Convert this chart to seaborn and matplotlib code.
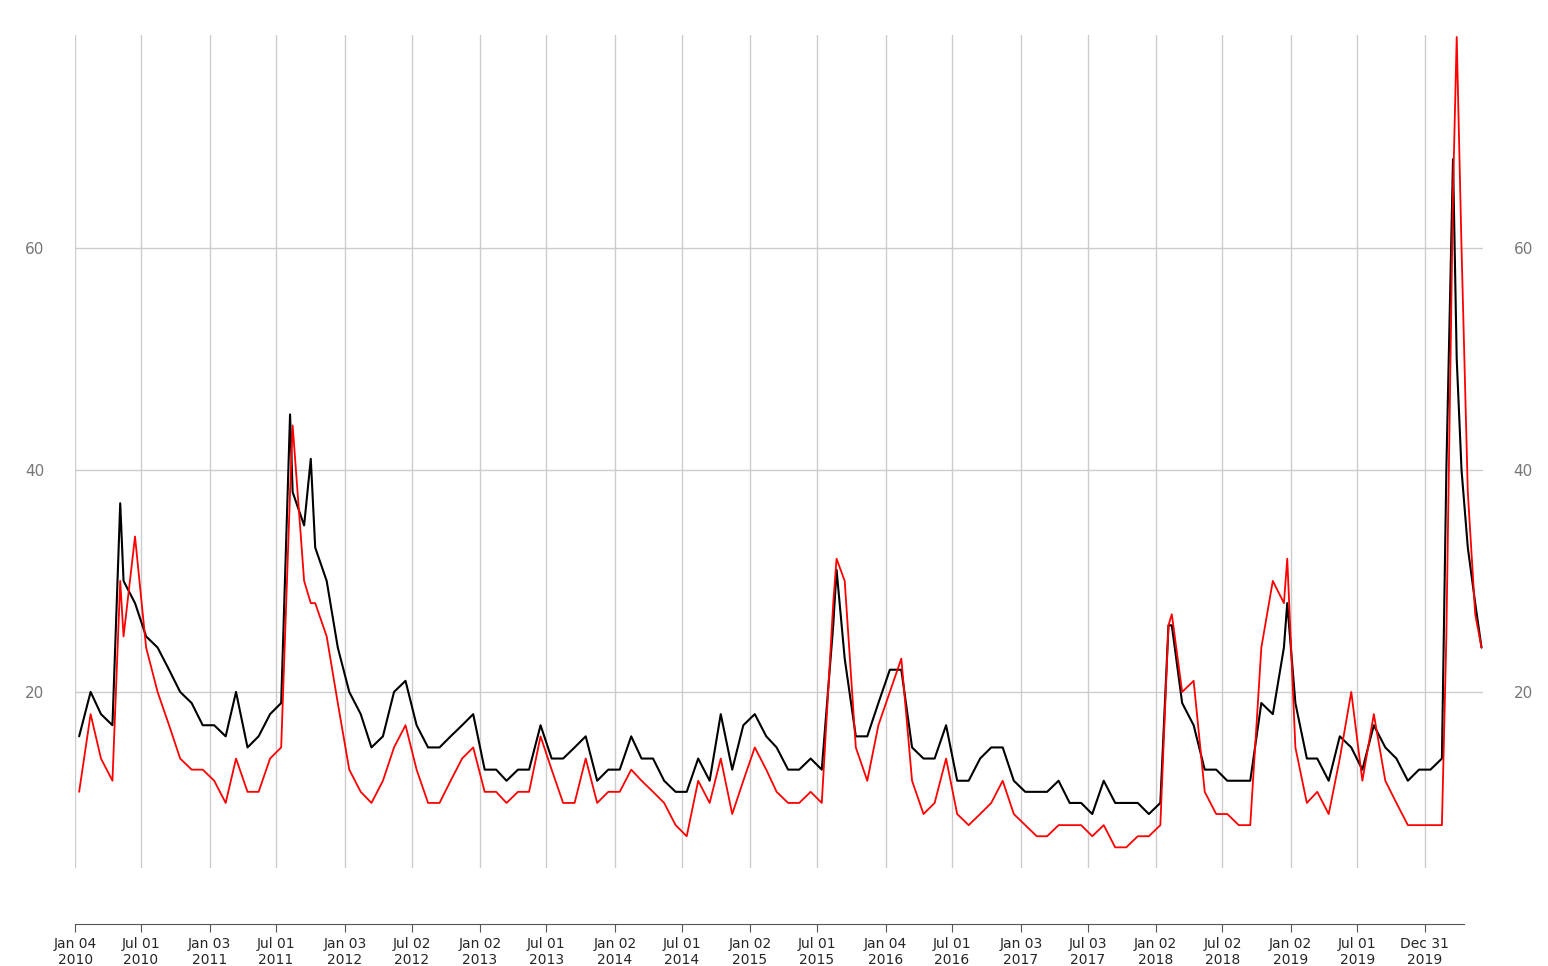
import pandas as pd
import numpy as np
import seaborn as sb
import matplotlib.dates as mdates
from matplotlib import pyplot as plt

# monthly readings, Jan 2010 .. Feb 2020 (mid-month)
months = pd.date_range("2010-01-01", "2020-02-01", freq="MS") + pd.Timedelta(days=14)

vix = [16, 20, 18, 17, 30, 28, 25, 24, 22, 20, 19, 17,
       17, 16, 20, 15, 16, 18, 19, 38, 35, 33, 30, 24,
       20, 18, 15, 16, 20, 21, 17, 15, 15, 16, 17, 18,
       13, 13, 12, 13, 13, 17, 14, 14, 15, 16, 12, 13,
       13, 16, 14, 14, 12, 11, 11, 14, 12, 18, 13, 17,
       18, 16, 15, 13, 13, 14, 13, 26, 23, 16, 16, 19,
       22, 22, 15, 14, 14, 17, 12, 12, 14, 15, 15, 12,
       11, 11, 11, 12, 10, 10, 9, 12, 10, 10, 10, 9,
       10, 26, 19, 17, 13, 13, 12, 12, 12, 19, 18, 24,
       19, 14, 14, 12, 16, 15, 13, 17, 15, 14, 12, 13,
       13, 14]
rv = [11, 18, 14, 12, 25, 34, 24, 20, 17, 14, 13, 13,
      12, 10, 14, 11, 11, 14, 15, 44, 30, 28, 25, 19,
      13, 11, 10, 12, 15, 17, 13, 10, 10, 12, 14, 15,
      11, 11, 10, 11, 11, 16, 13, 10, 10, 14, 10, 11,
      11, 13, 12, 11, 10, 8, 7, 12, 10, 14, 9, 12,
      15, 13, 11, 10, 10, 11, 10, 28, 30, 15, 12, 17,
      20, 23, 12, 9, 10, 14, 9, 8, 9, 10, 12, 9,
      8, 7, 7, 8, 8, 8, 7, 8, 6, 6, 7, 7,
      8, 27, 20, 21, 11, 9, 9, 8, 8, 24, 30, 28,
      15, 10, 11, 9, 14, 20, 12, 18, 12, 10, 8, 8,
      8, 8]

# extra points at spikes and the 2020 crash
spike_dates = ["2010-05-06", "2011-08-08", "2011-10-03", "2015-08-24", "2018-02-06",
               "2018-12-24", "2020-02-27", "2020-03-16", "2020-03-26", "2020-04-08",
               "2020-04-25", "2020-05-15", "2020-06-01"]
spike_vix = [37, 45, 41, 31, 26, 28, 40, 68, 50, 40, 33, 28, 24]
spike_rv = [30, 38, 28, 32, 26, 32, 25, 65, 79, 60, 38, 27, 24]

tick_dates = ["2010-01-04", "2010-07-01", "2011-01-03", "2011-07-01", "2012-01-03", "2012-07-02",
              "2013-01-02", "2013-07-01", "2014-01-02", "2014-07-01", "2015-01-02", "2015-07-01",
              "2016-01-04", "2016-07-01", "2017-01-03", "2017-07-03", "2018-01-02", "2018-07-02",
              "2019-01-02", "2019-07-01", "2019-12-31"]
tick_labels = ["Jan 04\n2010", "Jul 01\n2010", "Jan 03\n2011", "Jul 01\n2011", "Jan 03\n2012",
               "Jul 02\n2012", "Jan 02\n2013", "Jul 01\n2013", "Jan 02\n2014", "Jul 01\n2014",
               "Jan 02\n2015", "Jul 01\n2015", "Jan 04\n2016", "Jul 01\n2016", "Jan 03\n2017",
               "Jul 03\n2017", "Jan 02\n2018", "Jul 02\n2018", "Jan 02\n2019", "Jul 01\n2019",
               "Dec 31\n2019"]

df = pd.DataFrame({"date": list(months) + list(pd.to_datetime(spike_dates)),
                   "vix": vix + spike_vix,
                   "rv": rv + spike_rv}).sort_values("date")

sb.set_style("white")
fig = plt.figure(figsize=(15.48, 9.66), dpi=100)
ax = fig.add_axes([0.0485, 0.101, 0.958 - 0.0485, 0.964 - 0.101])

ticks = pd.to_datetime(tick_dates)
for t in ticks:
    ax.axvline(t, color="#cccccc", lw=1, zorder=0)
for y in [20, 40, 60]:
    ax.axhline(y, color="#cccccc", lw=1, zorder=0)

sb.lineplot(data=df, x="date", y="vix", color="black", lw=1.5, ax=ax)
sb.lineplot(data=df, x="date", y="rv", color="red", lw=1.3, ax=ax)

ax.set_xlim(pd.Timestamp("2010-01-04"), pd.Timestamp("2020-06-05"))
ax.set_ylim(4.1, 79.2)
ax.set_xlabel("")
ax.set_ylabel("")
ax.set_xticks(ticks)
ax.set_xticklabels(tick_labels, color="#555555", fontsize=11)
ax.set_yticks([20, 40, 60])
ax.tick_params(axis="y", length=0, labelcolor="#777777", labelsize=11,
               labelleft=True, labelright=True, pad=22)
ax.tick_params(axis="x", direction="out", length=6, color="#555555", bottom=True)
for s in ["top", "left", "right"]:
    ax.spines[s].set_visible(False)
ax.spines["bottom"].set_position(("outward", 40))
ax.spines["bottom"].set_color("#555555")
ax.spines["bottom"].set_bounds(mdates.date2num(pd.Timestamp("2010-01-04")),
                               mdates.date2num(pd.Timestamp("2020-04-15")))

fig.savefig("out.png", dpi=100, facecolor="white")
